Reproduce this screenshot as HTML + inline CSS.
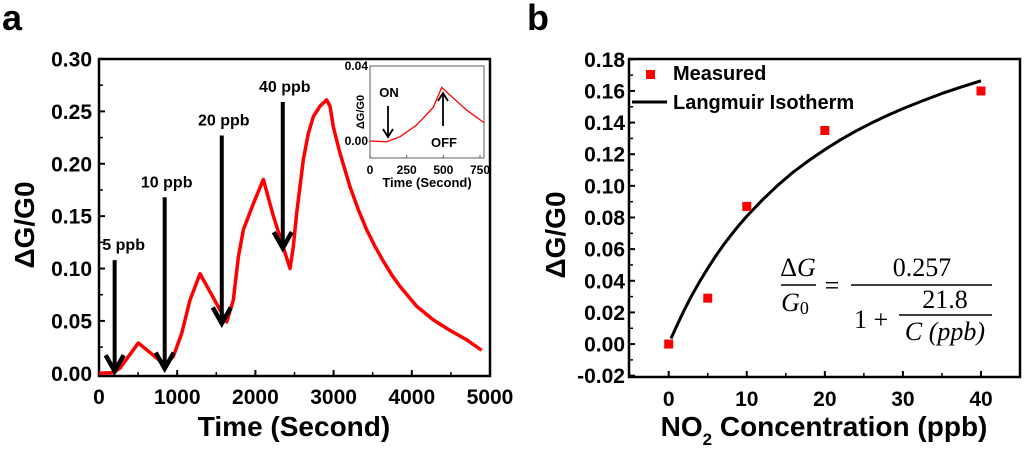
<!DOCTYPE html>
<html><head><meta charset="utf-8"><style>
html,body{margin:0;padding:0;background:#fff;width:1024px;height:450px;overflow:hidden}
svg{font-family:"Liberation Sans",Arial,sans-serif;font-weight:bold}
</style></head><body>
<svg id="c" width="1024" height="450" viewBox="0 0 1024 450">
<text x="2" y="30" font-size="36">a</text>
<text x="527" y="30" font-size="36">b</text>
<g id="A"></g>
<g id="B"></g>
</svg>
<script>
// Panel a data
const aTime=[0,183,269,503,844,950,1057,1164,1292,1633,1718,1782,1846,1974,2102,2230,2443,2485,2528,2613,2677,2741,2826,2911,2954,2997,3082,3210,3317,3423,3530,3636,3743,3849,4062,4275,4488,4701,4893];
const aResp=[0,0.0006,0.005,0.029,0.008,0.016,0.038,0.070,0.095,0.049,0.07,0.111,0.137,0.162,0.185,0.15,0.100,0.121,0.153,0.204,0.229,0.245,0.255,0.261,0.255,0.235,0.210,0.178,0.156,0.137,0.121,0.107,0.094,0.083,0.064,0.051,0.041,0.032,0.022];
const aXTicks=[0,1000,2000,3000,4000,5000];
const aYTicks=[0,0.05,0.10,0.15,0.20,0.25,0.30];
const arrowLabels=["5 ppb","10 ppb","20 ppb","40 ppb"];
const arrowTimes=[200,840,1570,2350];
const arrowTopY=[0.108,0.168,0.227,0.259];
const arrowTipY=[0.002,0.0045,0.0475,0.1195];
const insetTime=[0,114,205,318,432,489,545,659,777];
const insetResp=[0,-0.0004,0.0023,0.0085,0.018,0.0286,0.0245,0.0165,0.0098];
const insetXTicks=[0,250,500,750];
const insetYTicks=[0,0.04];
// Panel b data
const bConc=[0,5,10,20,40];
const bMeas=[0,0.029,0.087,0.135,0.160];
const fitConc=[0.3,1,2,3,4,5,6,7,8,9,10,12,14,16,18,20,22,24,26,28,30,32.5,35,37.5,40];
const fitResp=[0.0035,0.0112,0.0216,0.0311,0.0398,0.0479,0.0555,0.0625,0.069,0.0751,0.0808,0.0911,0.1005,0.1089,0.1162,0.1229,0.1291,0.1347,0.1398,0.1445,0.1488,0.1537,0.1584,0.1625,0.1664];
const bXTicks=[0,10,20,30,40];
const bYTicks=[-0.02,0,0.02,0.04,0.06,0.08,0.10,0.12,0.14,0.16,0.18];

const NS="http://www.w3.org/2000/svg";
function mk(p,t,a,txt){const e=document.createElementNS(NS,t);for(const k in a)e.setAttribute(k,a[k]);if(txt!==undefined)e.textContent=txt;p.appendChild(e);return e;}
const A=document.getElementById('A'),B=document.getElementById('B');

const ax=v=>99+v/5000*391, ay=v=>373.3-v/0.3*314.3;
let el;
el=mk(A,'rect',{x:99,y:59,width:391,height:317,fill:'none',stroke:'#000','stroke-width':2.5});


aXTicks.forEach(t=>{mk(A,'line',{x1:ax(t),x2:ax(t),y1:376,y2:370,stroke:'#000','stroke-width':2});
 el=mk(A,'text',{x:ax(t),y:404,'font-size':21,'text-anchor':'middle'},String(t));
 
 });
aXTicks.slice(0,-1).forEach(t=>mk(A,'line',{x1:ax(t+500),x2:ax(t+500),y1:376,y2:372,stroke:'#000','stroke-width':1.5}));
aYTicks.forEach(t=>{mk(A,'line',{x1:99,x2:105,y1:ay(t),y2:ay(t),stroke:'#000','stroke-width':2});
 el=mk(A,'text',{x:92,y:ay(t)+7.5,'font-size':21,'text-anchor':'end'},t.toFixed(2));
 
 });
aYTicks.slice(0,-1).forEach(t=>mk(A,'line',{x1:99,x2:103,y1:ay(t+0.025),y2:ay(t+0.025),stroke:'#000','stroke-width':1.5}));
el=mk(A,'text',{x:294,y:436,'font-size':28,'text-anchor':'middle'},'Time (Second)');


el=mk(A,'text',{x:0,y:0,'font-size':28,'text-anchor':'middle',transform:'translate(34,225) rotate(-90)'},'ΔG/G0');


el=mk(A,'polyline',{points:aTime.map((t,i)=>ax(t)+','+ay(aResp[i])).join(' '),fill:'none',stroke:'#f00','stroke-width':3.5,'stroke-linejoin':'round'});


arrowTimes.forEach((t,i)=>{const x=ax(t),y1=ay(arrowTopY[i]),y2=ay(arrowTipY[i]);
 el=mk(A,'line',{x1:x,x2:x,y1:y1,y2:y2-3,stroke:'#000','stroke-width':4});
 
 
 mk(A,'polyline',{points:`${x-9},${y2-16} ${x},${y2} ${x+9},${y2-16}`,fill:'none',stroke:'#000','stroke-width':4.5});
 el=mk(A,'text',{x:x+(i==0?9:2),y:y1-10,'font-size':16,'text-anchor':'middle'},arrowLabels[i]);
 
 });
const ix=v=>370+v/750*110, iy=v=>141-v/0.04*75;
el=mk(A,'rect',{x:370,y:66,width:114,height:92,fill:'#fff',stroke:'#777','stroke-width':1.2});


insetXTicks.forEach(t=>{mk(A,'line',{x1:ix(t),x2:ix(t),y1:158,y2:155,stroke:'#555'});
 mk(A,'text',{x:ix(t),y:174,'font-size':12,'text-anchor':'middle'},String(t));});
insetYTicks.forEach(t=>{mk(A,'text',{x:368,y:iy(t)+4,'font-size':12,'text-anchor':'end'},t.toFixed(2));});
mk(A,'text',{x:427,y:187,'font-size':13,'text-anchor':'middle'},'Time (Second)');
mk(A,'text',{x:0,y:0,'font-size':11,'text-anchor':'middle',transform:'translate(364,112) rotate(-90)'},'ΔG/G0');
el=mk(A,'polyline',{points:insetTime.map((t,i)=>ix(t)+','+iy(insetResp[i])).join(' '),fill:'none',stroke:'#f00','stroke-width':1.3});


mk(A,'text',{x:389,y:97,'font-size':13,'text-anchor':'middle'},'ON');
mk(A,'line',{x1:388,x2:388,y1:106,y2:136,stroke:'#000','stroke-width':1.8});
mk(A,'polyline',{points:'383,129 388,137 393,129',fill:'none',stroke:'#000','stroke-width':1.8});
mk(A,'text',{x:444,y:147,'font-size':13,'text-anchor':'middle'},'OFF');
mk(A,'line',{x1:443,x2:443,y1:126,y2:94,stroke:'#000','stroke-width':1.8});
mk(A,'polyline',{points:'438,101 443,93 448,101',fill:'none',stroke:'#000','stroke-width':1.8});

const bx=v=>668.7+v/40*312.3, by=v=>375.7-(v+0.02)/0.2*316.4;
el=mk(B,'rect',{x:629,y:59,width:391,height:318,fill:'none',stroke:'#000','stroke-width':2.5});


bXTicks.forEach(t=>{mk(B,'line',{x1:bx(t),x2:bx(t),y1:377,y2:371,stroke:'#000','stroke-width':2});
 el=mk(B,'text',{x:bx(t),y:406,'font-size':21,'text-anchor':'middle'},String(t));
 
 });
[-5,5,15,25,35,45].forEach(t=>mk(B,'line',{x1:bx(t),x2:bx(t),y1:377,y2:373,stroke:'#000','stroke-width':1.5}));
bYTicks.forEach(t=>{mk(B,'line',{x1:629,x2:635,y1:by(t),y2:by(t),stroke:'#000','stroke-width':2});
 el=mk(B,'text',{x:625,y:by(t)+7.5,'font-size':21,'text-anchor':'end'},t.toFixed(2));
 
 });
bYTicks.slice(0,-1).forEach(t=>mk(B,'line',{x1:629,x2:633,y1:by(t+0.01),y2:by(t+0.01),stroke:'#000','stroke-width':1.5}));
el=mk(B,'text',{x:824,y:436,'font-size':28,'text-anchor':'middle'});
el.innerHTML='NO<tspan font-size="17" dy="9">2</tspan><tspan dy="-9"> Concentration (ppb)</tspan>';


el=mk(B,'text',{x:0,y:0,'font-size':28,'text-anchor':'middle',transform:'translate(565,235) rotate(-90)'},'ΔG/G0');


el=mk(B,'polyline',{points:fitConc.map((c,i)=>bx(c)+','+by(fitResp[i])).join(' '),fill:'none',stroke:'#000','stroke-width':3,'stroke-linejoin':'round'});


bConc.forEach((c,i)=>{el=mk(B,'rect',{x:bx(c)-4.5,y:by(bMeas[i])-4.5,width:9,height:9,fill:'#f00'});
 
 });
el=mk(B,'rect',{x:646,y:70,width:9,height:9,fill:'#f00'});


el=mk(B,'text',{x:673,y:80,'font-size':20},'Measured');


mk(B,'line',{x1:632,x2:667,y1:102,y2:102,stroke:'#000','stroke-width':3});
el=mk(B,'text',{x:673,y:109,'font-size':20},'Langmuir Isotherm');


const eq=mk(B,'g',{'font-family':'Liberation Serif,serif','font-weight':'normal','font-size':26});


mk(eq,'text',{x:798,y:276,'text-anchor':'middle','font-style':'italic'}).innerHTML='<tspan font-style="normal">Δ</tspan>G';
mk(eq,'line',{x1:781,x2:816,y1:285,y2:285,stroke:'#000','stroke-width':1.4});
mk(eq,'text',{x:795,y:311,'text-anchor':'middle','font-style':'italic'}).innerHTML='G<tspan font-style="normal" font-size="18" dy="3">0</tspan>';
mk(eq,'text',{x:832,y:294,'text-anchor':'middle'},'=');
mk(eq,'text',{x:922,y:276,'text-anchor':'middle'},'0.257');
mk(eq,'line',{x1:851,x2:992,y1:285,y2:285,stroke:'#000','stroke-width':1.4});
mk(eq,'text',{x:854,y:328},'1 +');
mk(eq,'text',{x:945,y:308,'text-anchor':'middle'},'21.8');
mk(eq,'line',{x1:899,x2:992,y1:315,y2:315,stroke:'#000','stroke-width':1.4});
mk(eq,'text',{x:945,y:340,'text-anchor':'middle','font-style':'italic'},'C (ppb)');
</script>
</body></html>
